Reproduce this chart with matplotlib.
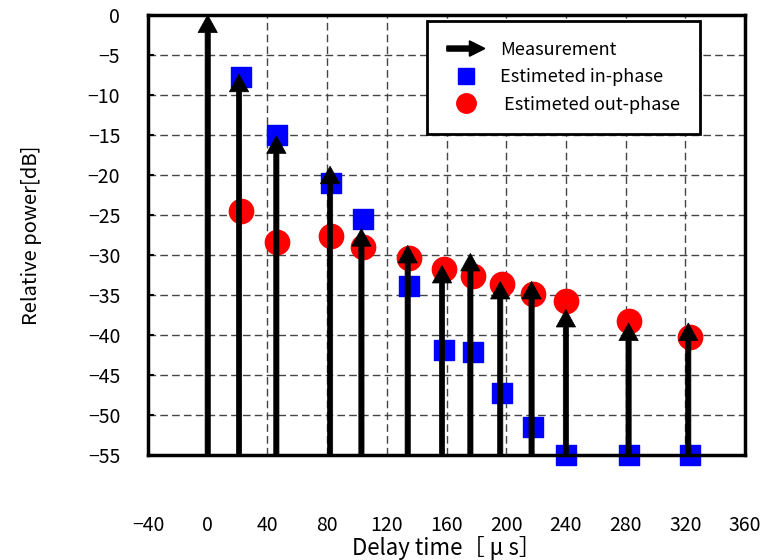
import matplotlib
matplotlib.use("Agg")
import matplotlib.pyplot as plt
import matplotlib.patches as mpatches
from matplotlib.lines import Line2D
from matplotlib.legend_handler import HandlerPatch, HandlerLine2D

plt.rcParams['font.family'] = ['Noto Sans CJK JP', 'DejaVu Sans']

# measured delay profile (arrows)
meas_x = [0, 21, 46, 82, 103, 134, 157, 176, 196, 217, 240, 282, 322]
meas_y = [0, -7.4, -15.1, -18.9, -26.7, -28.8, -31.3, -29.8, -33.3, -33.3, -36.8, -38.5, -38.5]

# estimated components
est_x = [22, 46.5, 82.5, 104, 135, 158, 178, 197, 218, 240, 282.5, 323]
in_phase = [-7.8, -15.0, -21.0, -25.5, -33.9, -41.9, -42.1, -47.3, -51.5, -55, -55, -55]
out_phase = [-24.5, -28.4, -27.6, -29.0, -30.4, -31.7, -32.6, -33.6, -34.9, -35.8, -38.3, -40.3]

x_ticks = list(range(-40, 361, 40))
y_ticks = list(range(-55, 1, 5))

fig = plt.figure(figsize=(7.61, 5.60), dpi=100)
ax = fig.add_axes([148/761, 1-455/560, (745-148)/761, (455-15)/560])
ax.set_xlim(-40, 360)
ax.set_ylim(-55, 0)

ax.set_xticks(x_ticks)
ax.set_yticks(y_ticks)
ax.grid(True, color='#444444', lw=1, linestyle=(0, (5.5, 3)))
ax.set_axisbelow(True)

ax.scatter(est_x, out_phase, s=17.5**2, marker='o', color='#ff0000', zorder=3, clip_on=False)
ax.scatter(est_x, in_phase, s=14.4**2, marker='s', color='#0000ff', zorder=3, clip_on=False)

for x, y in zip(meas_x, meas_y):
    ax.arrow(x, -55, 0, y + 55, width=3.5, head_width=13.0, head_length=2.2,
             length_includes_head=True, fc='black', ec='black', lw=0.5, zorder=4)

for s in ax.spines.values():
    s.set_linewidth(2.5)
    s.set_zorder(5)

ax.tick_params(axis='y', direction='in', length=4, width=1.5, pad=20, labelsize=14)
ax.tick_params(axis='x', direction='in', length=0, pad=43, labelsize=14)

ax.set_xlabel('Delay time［ μ s］', fontsize=16, labelpad=0)
ax.set_ylabel('Relative power[dB]', fontsize=14.5, labelpad=33)


def make_arrow(legend, orig_handle, xdescent, ydescent, width, height, fontsize):
    return mpatches.FancyArrow(-xdescent, height / 2 - ydescent, width, 0,
                               width=fontsize * 0.28, head_width=fontsize * 0.85,
                               head_length=fontsize * 0.85,
                               length_includes_head=True, color='black')


class ShiftedMarker(HandlerLine2D):
    def get_xdata(self, legend, xdescent, ydescent, width, height, fontsize):
        xdata, xm = super().get_xdata(legend, xdescent, ydescent, width, height, fontsize)
        return xdata, [v + 0.29 * width for v in xm]


h_meas = mpatches.FancyArrow(0, 0, 1, 0, color='black')
h_in = Line2D([], [], ls='none', marker='s', ms=11, color='#0000ff')
h_out = Line2D([], [], ls='none', marker='o', ms=14, color='#ff0000')

leg = ax.legend([h_meas, h_in, h_out],
                ['Measurement', 'Estimeted in-phase', ' Estimeted out-phase'],
                handler_map={mpatches.FancyArrow: HandlerPatch(patch_func=make_arrow),
                             Line2D: ShiftedMarker()},
                loc='upper left', bbox_to_anchor=(427/761, 1-21/560),
                bbox_transform=fig.transFigure, borderaxespad=0,
                fontsize=13, handlelength=2.1, handletextpad=0.85,
                labelspacing=0.52, borderpad=1.1, fancybox=False,
                framealpha=1, edgecolor='black')
leg.get_frame().set_linewidth(2)
leg.set_zorder(6)

fig.savefig('out.png', dpi=100)
